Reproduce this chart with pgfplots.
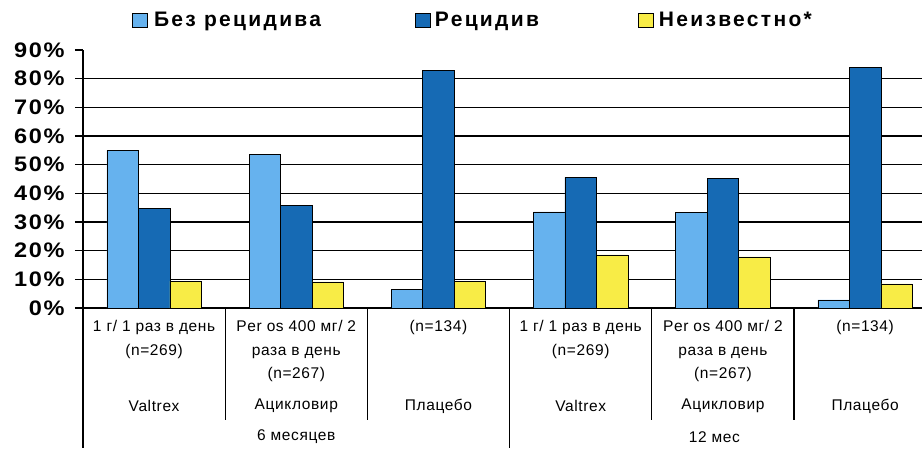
\documentclass[border=0pt]{standalone}
\usepackage{pgfplots}
\pgfplotsset{compat=1.18}
\usepackage{fontspec}
\setmainfont{Liberation Sans}
\definecolor{lb}{RGB}{102,178,238}
\definecolor{db}{RGB}{22,106,180}
\definecolor{yl}{RGB}{248,236,70}
\newcommand{\catfont}{\fontsize{15.5}{23.5}\selectfont\addfontfeature{LetterSpace=4}}
\pgfplotsset{sq/.style={legend image code/.code={\draw[#1,draw=black,line width=0.9pt] (0pt,-7pt) rectangle (15pt,7pt);}}}
\begin{document}
\begin{tikzpicture}
\useasboundingbox (0,0) rectangle (922pt,448pt);
\begin{axis}[
  at={(83pt,140pt)}, anchor=south west,
  scale only axis, width=839pt, height=258pt,
  xmin=-0.5, xmax=5.4, ymin=0, ymax=90,
  clip=false,
  axis lines*=left,
  axis line style={black, line width=1.3pt},
  ybar=0pt, bar width=31.5pt,
  ytick={0,10,...,90},
  yticklabel={\pgfmathprintnumber{\tick}\%},
  /pgf/number format/assume math mode=true,
  yticklabel style={font=\fontsize{21}{21}\selectfont\bfseries\addfontfeature{FakeStretch=1.12,LetterSpace=8}, xshift=-7pt},
  tick align=outside,
  major tick length=8pt,
  ytick style={line width=1.1pt, black},
  extra y ticks={10,20,...,80},
  extra y tick labels={},
  extra y tick style={grid=major, major grid style={black,line width=1.2pt}, major tick length=0pt},
  xtick={0,...,5},
  xticklabels={{1 г/ 1 раз в день\\(n=269)},{Per os 400 мг/ 2\\раза в день\\(n=267)},{(n=134)},{1 г/ 1 раз в день\\(n=269)},{Per os 400 мг/ 2\\раза в день\\(n=267)},{(n=134)}},
  xtick style={draw=none},
  xticklabel style={align=center, anchor=north, font=\catfont, yshift=-1pt},
  legend columns=3,
  legend style={draw=none, fill=none, inner sep=0pt, nodes={inner sep=0pt}, at={(axis description cs:0.0584,1.116)}, anchor=west, font=\fontsize{21}{21}\selectfont\bfseries\addfontfeature{LetterSpace=11}},
]
\addplot[fill=lb, draw=black, line width=0.7pt, sq] coordinates {(0,55) (1,53.5) (2,6.5) (3,33.5) (4,33.3) (5,2.8)};
\addlegendentry{\hspace{6pt}\makebox[261pt][l]{Без рецидива}}
\addplot[fill=db, draw=black, line width=0.7pt, sq] coordinates {(0,34.6) (1,35.8) (2,82.8) (3,45.6) (4,45.2) (5,84)};
\addlegendentry{\hspace{4pt}\makebox[203pt][l]{Рецидив}}
\addplot[fill=yl, draw=black, line width=0.7pt, sq] coordinates {(0,9.4) (1,9.1) (2,9.2) (3,18.5) (4,17.8) (5,8.4)};
\addlegendentry{\hspace{5pt}Неизвестно*}
\draw[line width=1.2pt] (axis cs:-0.5,0) -- (axis cs:-0.5,-48.8);
\draw[line width=1.2pt] (axis cs:2.5,0) -- (axis cs:2.5,-48.8);
\draw[line width=1.2pt] (axis cs:0.5,0) -- (axis cs:0.5,-39.1);
\draw[line width=1.2pt] (axis cs:1.5,0) -- (axis cs:1.5,-39.1);
\draw[line width=1.2pt] (axis cs:3.5,0) -- (axis cs:3.5,-39.1);
\draw[line width=1.2pt] (axis cs:4.5,0) -- (axis cs:4.5,-39.1);
\node[font=\catfont] at (axis cs:0,-34.2) {Valtrex};
\node[font=\catfont] at (axis cs:1,-34.2) {Ацикловир};
\node[font=\catfont] at (axis cs:2,-34.2) {Плацебо};
\node[font=\catfont] at (axis cs:3,-34.2) {Valtrex};
\node[font=\catfont] at (axis cs:4,-34.2) {Ацикловир};
\node[font=\catfont] at (axis cs:5,-34.2) {Плацебо};
\node[font=\catfont] at (axis cs:1,-45) {6 месяцев};
\node[font=\catfont] at (axis cs:3.94,-45) {12 мес};
\end{axis}
\end{tikzpicture}
\end{document}
